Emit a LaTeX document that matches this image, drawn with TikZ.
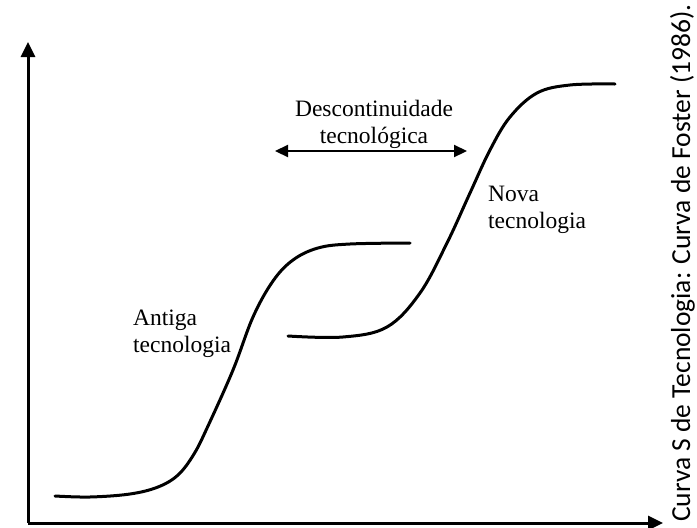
\documentclass[tikz,border=0pt]{standalone}
\usepackage{fontspec}
\setmainfont{Liberation Serif}
\newfontfamily\capfont{Carlito}
\usepackage{tikz}
\usetikzlibrary{positioning, arrows.meta}

\begin{document}
\begin{tikzpicture}[x=1pt, y=-1pt,
    axis/.style={line width=3pt, -{Triangle[length=15pt, width=14pt]}},
    curve/.style={line width=3pt, line cap=round},
    gaparrow/.style={line width=2.2pt, {Triangle[length=13pt, width=12pt]}-{Triangle[length=13pt, width=12pt]}},
    lbl/.style={inner sep=0pt, font=\fontsize{23.5}{27}\selectfont}]
    \useasboundingbox (0,0) rectangle (697,528);

    % axes
    \coordinate (O) at (28,523);
    \coordinate (ytop) at (28,42);
    \coordinate (xend) at (663,523);
    \draw[axis] (O) -- (ytop);
    \draw[axis] (O) -- (xend);

    % old technology
    \draw[curve] plot[smooth, tension=0.6] coordinates {(55,496) (90,497) (130,494) (158,487) (178,475) (194,454) (208,426) (233,370) (253,317) (273,281) (293,260) (318,248) (350,244) (410,243)};
    % new technology
    \draw[curve] plot[smooth, tension=0.6] coordinates {(288,336) (343,337) (387,327) (420,293) (447,243) (470,193) (490,150) (510,117) (537,93) (570,85) (615,84)};

    % discontinuity
    \coordinate (gapL) at (275,151);
    \coordinate (gapR) at (467,151);
    \draw[gaparrow] (gapL) -- (gapR);

    \node[lbl, align=center] (gap) at (374,124) {Descontinuidade\\tecnológica};
    \node[lbl, align=left, anchor=west] (old) at (133,334) {Antiga\\tecnologia};
    \node[lbl, align=left, anchor=west] (new) at (488,210) {Nova\\tecnologia};

    \node[inner sep=0pt, anchor=base west, rotate=90, font=\capfont\fontsize{27.5}{31}\selectfont] (cap) at (690,522) {Curva S de Tecnologia: Curva de Foster (1986).};
\end{tikzpicture}
\end{document}
